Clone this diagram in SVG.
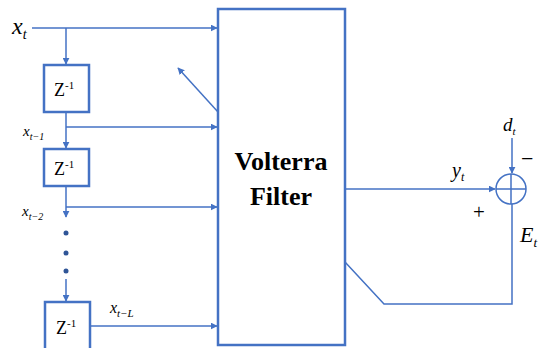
<svg xmlns="http://www.w3.org/2000/svg" width="545" height="348" viewBox="0 0 545 348">
<style>
.ln{stroke:#4472C4;stroke-width:1.5;fill:none}
.bx{stroke:#4472C4;stroke-width:2.5;fill:#fff}
</style>
<defs>
<marker id="ah" viewBox="0 0 10 10" refX="9" refY="5" markerWidth="7" markerHeight="7" markerUnits="userSpaceOnUse" orient="auto"><path d="M0,0 L10,5 L0,10 z" fill="#4472C4"/></marker>
</defs>
<g id="connectors">
<path class="ln" d="M32,28 H217" marker-end="url(#ah)"/>
<path class="ln" d="M66,28 V64" marker-end="url(#ah)"/>
<path class="ln" d="M66,112 V148" marker-end="url(#ah)"/>
<path class="ln" d="M66,127 H217" marker-end="url(#ah)"/>
<path class="ln" d="M66,186 V217" marker-end="url(#ah)"/>
<path class="ln" d="M66,207 H217" marker-end="url(#ah)"/>
<path class="ln" d="M66,279 V301" marker-end="url(#ah)"/>
<path class="ln" d="M90,326 H217" marker-end="url(#ah)"/>
<path class="ln" d="M218,112 L178,68" marker-end="url(#ah)"/>
<path class="ln" d="M345,189 H495" marker-end="url(#ah)"/>
<path class="ln" d="M512,138 V173" marker-end="url(#ah)"/>
<path class="ln" d="M345,262 L384,304 H512 V204"/>
<circle cx="66" cy="233" r="2.5" fill="#2F5597"/>
<circle cx="66" cy="253" r="2.5" fill="#2F5597"/>
<circle cx="66" cy="271" r="2.5" fill="#2F5597"/>
</g>
<g id="filter">
<rect class="bx" x="218" y="9" width="127" height="336"/>
<text x="281" y="170" font-size="26" font-weight="bold" text-anchor="middle" font-family="Liberation Serif">Volterra</text>
<text x="281" y="205" font-size="26" font-weight="bold" text-anchor="middle" font-family="Liberation Serif">Filter</text>
</g>
<g id="z1">
<rect class="bx" x="44" y="65" width="45" height="47"/>
<text x="54" y="96" font-size="18" font-family="Liberation Serif">Z<tspan font-size="11" dy="-7">-1</tspan></text>
</g>
<g id="z2">
<rect class="bx" x="44" y="149" width="45" height="37"/>
<text x="54" y="175" font-size="18" font-family="Liberation Serif">Z<tspan font-size="11" dy="-7">-1</tspan></text>
</g>
<g id="z3">
<rect class="bx" x="45" y="302" width="45" height="50"/>
<text x="56" y="334" font-size="18" font-family="Liberation Serif">Z<tspan font-size="11" dy="-7">-1</tspan></text>
</g>
<g id="sum">
<circle class="ln" cx="511" cy="189" r="15"/>
<path class="ln" d="M496,189 H526 M511,174 V204"/>
</g>
<g id="labels">
<text x="12" y="34" font-size="24" font-style="italic" font-family="Liberation Serif">x<tspan font-size="14" dy="5">t</tspan></text>
<text x="23" y="136" font-size="15" font-style="italic" font-family="Liberation Serif">x<tspan font-size="10" dy="4">t−1</tspan></text>
<text x="22" y="216" font-size="15" font-style="italic" font-family="Liberation Serif">x<tspan font-size="10" dy="4">t−2</tspan></text>
<text x="110" y="313" font-size="16" font-style="italic" font-family="Liberation Serif">x<tspan font-size="11" dy="4">t−L</tspan></text>
<text x="503" y="131" font-size="19" font-style="italic" font-family="Liberation Serif">d<tspan font-size="11" dy="4">t</tspan></text>
<text x="521" y="166" font-size="22" font-family="Liberation Serif">−</text>
<text x="452" y="177" font-size="20" font-style="italic" font-family="Liberation Serif">y<tspan font-size="12" dy="4">t</tspan></text>
<text x="473" y="219" font-size="21" font-family="Liberation Serif">+</text>
<text x="520" y="242" font-size="22" font-style="italic" font-family="Liberation Serif">E<tspan font-size="13" dy="5">t</tspan></text>
</g>
</svg>
